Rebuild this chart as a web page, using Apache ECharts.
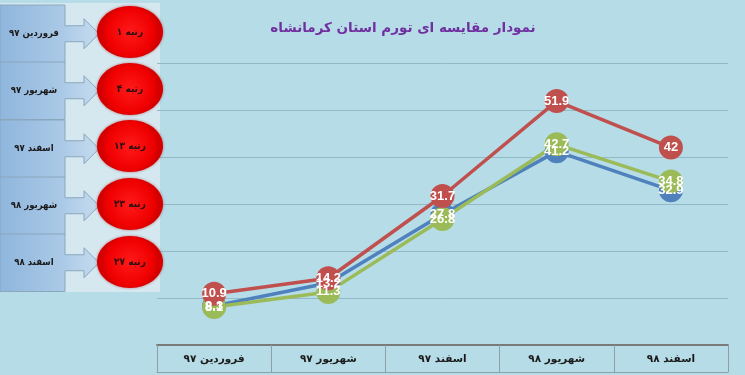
<!DOCTYPE html>
<html>
<head>
<meta charset="utf-8">
<script src="https://cdn.jsdelivr.net/npm/echarts@6/dist/echarts.min.js"></script>
<style>
html,body{margin:0;padding:0;background:#b6dce7;}
#c{width:745px;height:375px;}
</style>
</head>
<body>
<div id="c"></div>
<script>
const titleText = 'نمودار مقایسه ای تورم استان کرمانشاه';
const categories = ['فروردین ۹۷','شهریور ۹۷','اسفند ۹۷','شهریور ۹۸','اسفند ۹۸'];
const blueValues = [8.3, 13.2, 27.8, 41.2, 32.9];
const greenValues = [8.1, 11.3, 26.8, 42.7, 34.8];
const redValues = [10.9, 14.2, 31.7, 51.9, 42];
const panelMonths = ['فروردین ۹۷','شهریور ۹۷','اسفند ۹۷','شهریور ۹۸','اسفند ۹۸'];
const panelRanks = ['رتبه ۱','رتبه ۴','رتبه ۱۳','رتبه ۲۳','رتبه ۲۷'];

const chart = echarts.init(document.getElementById('c'));

const condFont = '"DejaVu Sans Condensed","DejaVu Sans"';
const rowTops = [5, 62, 120, 177, 234];
const rowH = 57.5;
const circleYs = [32, 89, 146, 204, 262];
const graphics = [];
graphics.push({type:'rect', z:0, shape:{x:0,y:3,width:160,height:289}, style:{fill:'#d5e8f0'}});
for (let i = 0; i < panelMonths.length; i++) {
  const top = rowTops[i], bot = top + rowH, cy = (top + bot) / 2;
  graphics.push({
    type:'polygon', z:1,
    shape:{points:[[0,top],[65,top],[65,cy-8],[84,cy-8],[84,cy-15],[99,cy],[84,cy+15],[84,cy+8],[65,cy+8],[65,bot],[0,bot]]},
    style:{
      fill:new echarts.graphic.LinearGradient(0,0,1,0,[{offset:0,color:'#8fb6dd'},{offset:0.6,color:'#a9c8e6'},{offset:1,color:'#c6dcef'}]),
      stroke:'#8aa7bd', lineWidth:1
    }
  });
  graphics.push({
    type:'text', z:3, x:34, y:cy,
    style:{text:panelMonths[i], fill:'#1a1a1a', font:'bold 9.5px ' + condFont, textAlign:'center', textVerticalAlign:'middle'}
  });
  graphics.push({
    type:'ellipse', z:4,
    shape:{cx:130, cy:circleYs[i], rx:33, ry:26},
    style:{
      fill:new echarts.graphic.RadialGradient(0.5,0.5,0.55,[{offset:0,color:'#ff1a1a'},{offset:0.8,color:'#f00000'},{offset:1,color:'#d40000'}]),
      shadowBlur:3, shadowColor:'rgba(150,0,0,0.5)'
    }
  });
  graphics.push({
    type:'text', z:5, x:130, y:circleYs[i],
    style:{text:panelRanks[i], fill:'#2a1010', font:'bold 10px ' + condFont, textAlign:'center', textVerticalAlign:'middle'}
  });
}
graphics.push({
  type:'text', z:5, x:403, y:28,
  style:{text:titleText, fill:'#7030a0', font:'bold 13.5px "DejaVu Sans"', textAlign:'center', textVerticalAlign:'middle'}
});

const labelStyle = {show:true, position:'inside', color:'#ffffff', fontFamily:'Liberation Sans', fontWeight:'bold', fontSize:13};

function mk(name, data, color) {
  return {
    name, type:'line', data, symbol:'circle', symbolSize:24,
    lineStyle:{color, width:3.5}, itemStyle:{color},
    label:labelStyle, emphasis:{disabled:true}
  };
}

chart.setOption({
  backgroundColor:'#b6dce7',
  animation:false,
  graphic:graphics,
  grid:{left:157, right:17, top:63, bottom:30},
  xAxis:[{
    type:'category', data:categories, boundaryGap:true,
    axisLine:{lineStyle:{color:'#7a7a7a', width:2}},
    axisTick:{show:true, interval:0, length:27, lineStyle:{color:'#8c9ea6', width:1}},
    axisLabel:{interval:0, margin:9, color:'#1a1a1a', fontFamily:'DejaVu Sans', fontWeight:'bold', fontSize:10.5}
  },{
    type:'category', data:categories, position:'bottom', offset:27,
    axisLine:{lineStyle:{color:'#8c9ea6', width:1}},
    axisTick:{show:false}, axisLabel:{show:false}
  }],
  yAxis:{
    type:'value', min:0, max:60, interval:10,
    axisLine:{show:false}, axisTick:{show:false}, axisLabel:{show:false},
    splitLine:{lineStyle:{color:'#93b9c6', width:1}}
  },
  series:[
    mk('blue', blueValues, '#4f81bd'),
    mk('green', greenValues, '#9bbb59'),
    mk('red', redValues, '#c0504d')
  ]
});
</script>
</body>
</html>
